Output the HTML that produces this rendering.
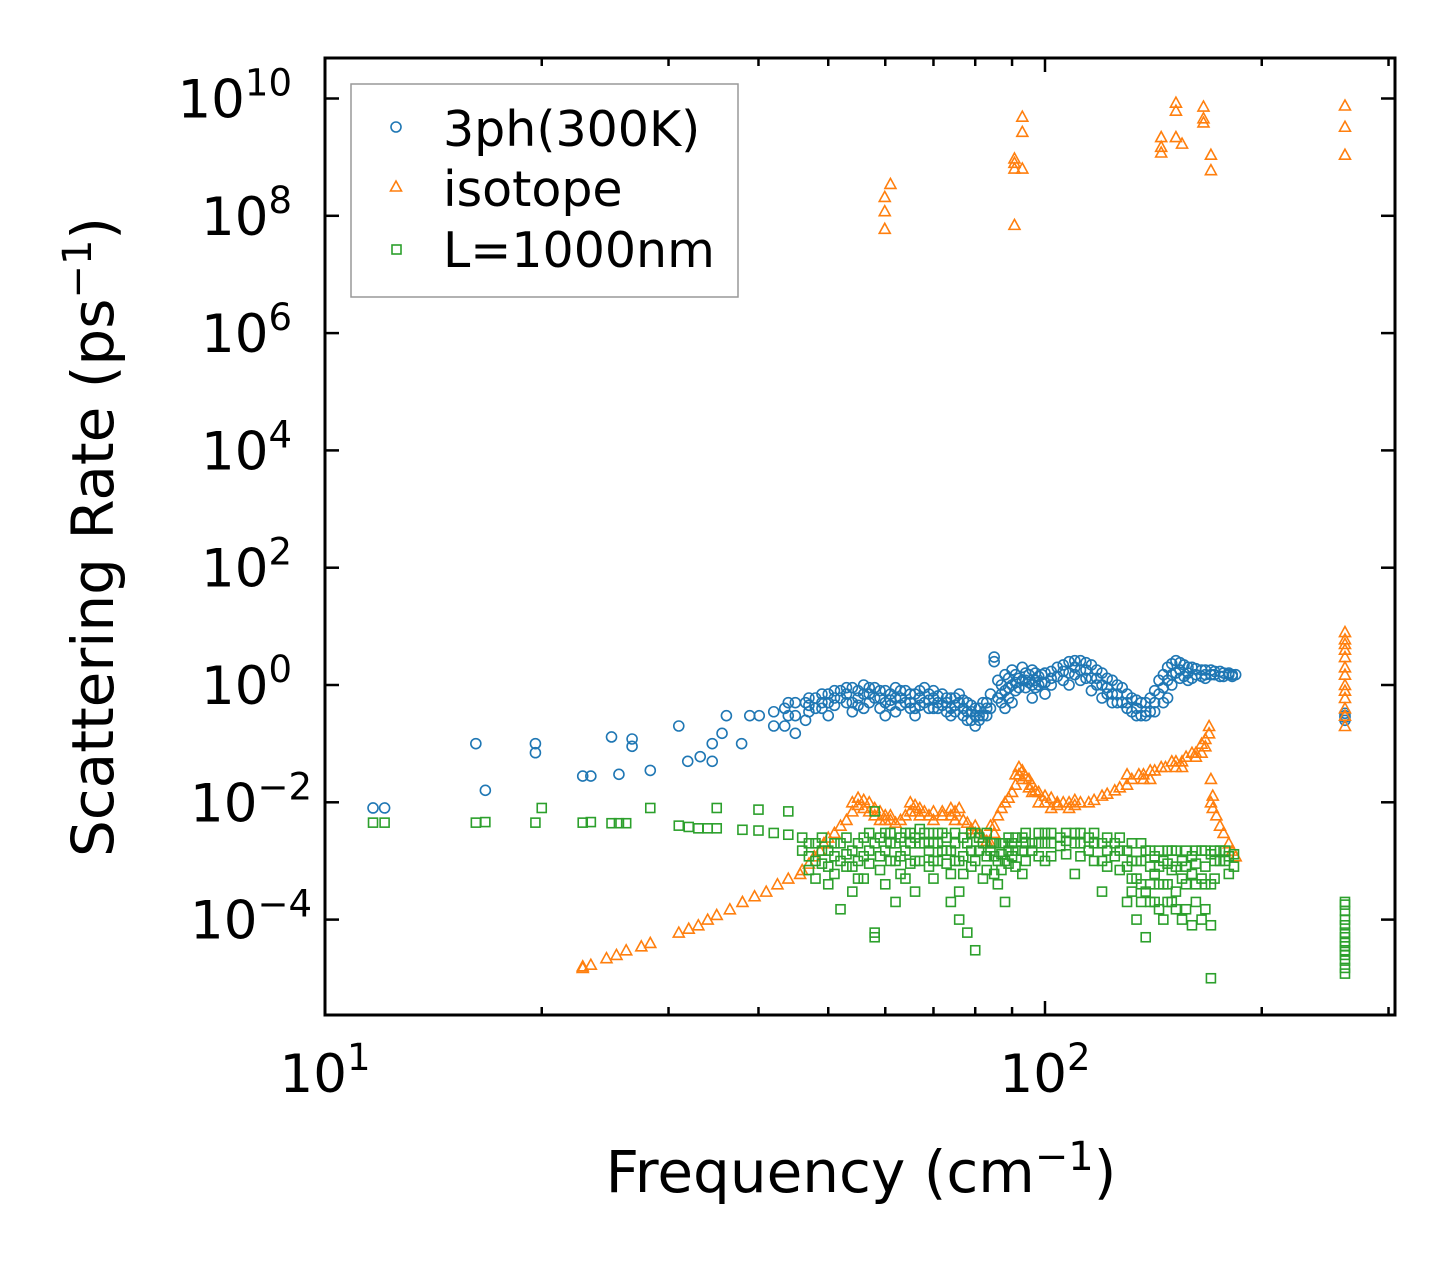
<!DOCTYPE html>
<html><head><meta charset="utf-8"><style>
body{margin:0;background:#fff}
svg{display:block;font-family:"DejaVu Sans","Liberation Sans",sans-serif}
</style></head><body>
<svg id="chart" width="1455" height="1265" viewBox="0 0 1455 1265" xmlns="http://www.w3.org/2000/svg">
<rect width="1455" height="1265" fill="#fff"/>
<g id="marks"></g>
<g id="axes"></g>
<g>
<rect x="351" y="84" width="387" height="213" fill="#fff" stroke="#999" stroke-width="1.5"/>
<circle cx="396" cy="127" r="5" fill="none" stroke="#1f77b4" stroke-width="1.6"/>
<text x="443" y="146" font-size="49">3ph(300K)</text>
<polygon points="396,181 401.5,191 390.5,191" fill="none" stroke="#ff7f0e" stroke-width="1.6"/>
<text x="443" y="206" font-size="49">isotope</text>
<rect x="392" y="245" width="9" height="9" fill="none" stroke="#2ca02c" stroke-width="1.6"/>
<text x="443" y="267" font-size="49">L=1000nm</text>
</g>
<text x="861" y="1192" font-size="58" text-anchor="middle">Frequency (cm<tspan dy="-22" font-size="40">−1</tspan><tspan dy="22">)</tspan></text>
<text transform="translate(113,537) rotate(-90)" font-size="58" text-anchor="middle">Scattering Rate (ps<tspan dy="-22" font-size="40">−1</tspan><tspan dy="22">)</tspan></text>
</svg>
<script>
const blueData=[[11.66,[0.008]],[12.1,[0.008]],[16.2,[0.1]],[16.7,[0.016]],[19.6,[0.1,0.07]],[22.8,[0.028]],[23.4,[0.028]],[25,[0.13]],[25.6,[0.03]],[26.7,[0.09,0.12]],[28.3,[0.035]],[31,[0.2]],[31.9,[0.05]],[33.2,[0.06]],[34.5,[0.1,0.05]],[35.6,[0.15]],[36.1,[0.3]],[37.9,[0.1]],[38.9,[0.3]],[40.1,[0.3]],
[42,[0.2,0.35]],[43.5,[0.4,0.2]],[45,[0.5,0.3,0.15]],[46.5,[0.5,0.25]],[48,[0.6,0.4]],[50,[0.7,0.5,0.3]],[52,[0.8,0.6]],[54,[0.9,0.5,0.35]],[56,[1.0,0.7,0.4]],[58,[0.9,0.6]],[60,[0.8,0.5,0.3]],[62,[0.9,0.6,0.35]],[64,[0.8,0.5]],[66,[0.7,0.4,0.3]],[68,[0.9,0.5]],[70,[0.8,0.6,0.4]],[72,[0.7,0.45]],[74,[0.6,0.4,0.3]],[76,[0.7,0.5]],[78,[0.5,0.35,0.25]],[80,[0.4,0.3,0.2]],[82,[0.5,0.3]],[84,[0.7,0.4]],[85,[3.0,2.5]],[86,[1.2,0.6]],[88,[1.5,0.8,0.4]],[90,[1.8,1.0,0.5]],[93,[2.0,1.2]],[96,[1.8,1.0,0.6]],[100,[1.6,1.1,0.7]],[104,[2.0,1.4]],[108,[2.5,1.6,1.0]],[112,[2.6,1.8,1.2]],[116,[2.2,1.3,0.8]],[120,[1.6,1.0,0.6]],[124,[1.2,0.7,0.5]],[128,[0.9,0.5]],[132,[0.6,0.35]],[136,[0.5,0.3]],[140,[0.6,0.35]],[144,[1.2,0.7]],[148,[2.0,1.2,0.6]],[152,[2.6,1.6]],[156,[2.2,1.4]],[160,[2.0,1.3]],[165,[1.8,1.4]],[170,[1.8,1.5]],[175,[1.7,1.4]],[180,[1.6,1.5]],[184,[1.5]],[261,[0.3,0.25,0.28,0.33]],
[44,[0.3,0.5]],[47,[0.35,0.6,0.45]],[49,[0.5,0.7,0.4]],[51,[0.6,0.8,0.45]],[53,[0.7,0.9,0.5]],[55,[0.8,0.6,0.45]],[57,[0.9,0.7,0.5]],[59,[0.8,0.6,0.4]],[61,[0.7,0.55,0.45]],[63,[0.8,0.6,0.45]],[65,[0.7,0.5,0.4]],[67,[0.8,0.6,0.45]],[69,[0.7,0.55,0.4]],[71,[0.65,0.5,0.4]],[73,[0.6,0.5,0.35]],[75,[0.6,0.45,0.35]],[77,[0.55,0.4,0.3]],[79,[0.45,0.35,0.25]],[81,[0.4,0.3,0.25]],[83,[0.5,0.4,0.3]],[87,[1.0,0.7,0.5]],[89,[1.3,0.9,0.6]],[91,[1.5,1.1,0.8]],[92,[1.3,0.9]],[94,[1.6,1.2,0.9]],[95,[1.5,1.1]],[97,[1.6,1.2,0.9]],[98,[1.4,1.0]],[99,[1.5,1.1]],[102,[1.7,1.3,1.0]],[106,[2.2,1.7,1.2]],[110,[2.6,2.0,1.5]],[114,[2.4,1.8,1.3]],[118,[1.8,1.3,1.0]],[122,[1.3,0.9,0.7]],[126,[1.0,0.7,0.5]],[130,[0.7,0.5,0.4]],[134,[0.55,0.4,0.3]],[138,[0.5,0.35,0.3]],[142,[0.8,0.5,0.35]],[146,[1.5,0.9,0.5]],[150,[2.3,1.5,1.0]],[154,[2.4,1.8,1.3]],[158,[2.0,1.6,1.2]],[162,[1.9,1.5]],[167,[1.8,1.5,1.3]],[172,[1.7,1.5]],[177,[1.6,1.4]],[182,[1.5,1.4]]];
const orangeData=[[59.9,[6e7,1.2e8,2.1e8]],[61,[3.5e8]],[90.7,[7e7,6.4e8,9.5e8,8e8]],[93,[4.9e9,2.7e9,6.4e8]],[145,[1.5e9,2.2e9,1.2e9]],[152,[8.5e9,6.2e9,2.2e9]],[155,[1.7e9]],[166,[7.3e9,4.6e9,3.9e9]],[170,[1.1e9,6e8]],[261,[7.6e9,3.3e9,1.1e9]],
[22.8,[1.5e-5,1.6e-5]],[23.4,[1.7e-5]],[24.6,[2.2e-5]],[25.4,[2.5e-5]],[26.2,[3e-5]],[27.5,[3.5e-5]],[28.3,[4e-5]],[31,[6e-5]],[32,[7e-5]],[33,[8e-5]],[34,[1e-4]],[35,[1.2e-4]],[36.5,[1.5e-4]],[38,[2e-4]],[39.5,[2.5e-4]],[41,[3e-4]],[42.5,[4e-4]],[44,[5e-4]],[45.7,[6e-4]],[47,[9e-4]],[48.7,[1.5e-3]],[50,[2.5e-3]],[52,[4e-3]],[54,[7e-3,1e-2]],[56,[1.1e-2,8e-3]],[58,[8e-3,6e-3]],[60,[6e-3,5e-3]],[63,[5e-3]],[65,[7e-3,1e-2]],[67,[8e-3,6e-3]],[70,[7e-3,5e-3]],[74,[8e-3,6e-3]],[77,[5e-3]],[80,[4e-3,3e-3]],[82,[2.5e-3]],[84,[2e-3,4e-3]],[86,[6e-3]],[88,[1e-2]],[90,[1.5e-2]],[92,[4e-2,3e-2]],[95,[2.5e-2,1.8e-2]],[98,[1.5e-2,1e-2]],[102,[1.2e-2,8e-3]],[106,[1e-2]],[110,[1.1e-2,9e-3]],[115,[1e-2]],[120,[1.3e-2]],[125,[1.6e-2]],[130,[2e-2,3e-2]],[135,[3e-2]],[140,[3.5e-2,2.5e-2]],[145,[4e-2]],[150,[5e-2]],[155,[5e-2,4e-2]],[160,[7e-2]],[165,[1e-1,7e-2]],[169,[1.5e-1,2e-1]],[171,[1.3e-2,8e-3]],[175,[4e-3]],[180,[2e-3]],[184,[1.2e-3]],[261,[8,5,3,2,1,0.6,0.3,0.2]],
[46,[7e-4]],[47.8,[1.2e-3]],[49.3,[2e-3]],[51,[3e-3]],[53,[5e-3]],[55,[9e-3,1.2e-2]],[57,[1e-2,7e-3]],[59,[7e-3,5e-3]],[61,[5e-3,6e-3]],[62,[4.5e-3]],[64,[6e-3]],[66,[9e-3,7e-3]],[68,[7e-3]],[69,[6e-3]],[72,[6e-3,7e-3]],[75,[7e-3,5e-3]],[76,[8e-3]],[78,[4.5e-3]],[79,[3.5e-3]],[81,[3e-3]],[83,[2.2e-3]],[85,[4e-3,3e-3]],[87,[8e-3]],[89,[1.2e-2]],[91,[2e-2,3e-2]],[93,[3.5e-2,2.5e-2]],[94,[2.8e-2]],[96,[2e-2,1.5e-2]],[97,[1.6e-2]],[100,[1.3e-2,1e-2]],[104,[1e-2,9e-3]],[108,[1e-2,8e-3]],[112,[1e-2]],[117,[1.1e-2]],[122,[1.4e-2]],[127,[1.8e-2]],[132,[2.5e-2]],[137,[3e-2,2.5e-2]],[142,[3.5e-2]],[147,[4e-2]],[152,[5e-2,4e-2]],[157,[6e-2]],[162,[7e-2,6e-2]],[167,[1.2e-1,9e-2]],[170,[2.5e-2,1e-2]],[173,[6e-3]],[177,[3e-3]],[182,[1.5e-3]],[261,[6,4,1.5,0.8,0.4]]];
const greenData=[[11.66,[4.5e-3]],[12.1,[4.5e-3]],[16.2,[4.5e-3]],[16.7,[4.6e-3]],[19.6,[4.5e-3]],[20,[8e-3]],[22.8,[4.5e-3]],[23.4,[4.6e-3]],[25,[4.4e-3]],[25.6,[4.4e-3]],[26.2,[4.4e-3]],[28.3,[8e-3]],[31,[4e-3]],[32,[3.8e-3]],[33,[3.6e-3]],[34,[3.6e-3]],[35,[8e-3,3.6e-3]],[38,[3.4e-3]],[40,[7.5e-3,3.3e-3]],[42,[3e-3]],[44,[7e-3,2.8e-3]],[46,[2.5e-3,1.5e-3]],[48,[2e-3,1e-3,5e-4]],[50,[1.5e-3,8e-4,4e-4]],[52,[1e-3,2e-3,1.5e-4]],[54,[8e-4,1.5e-3,3e-4]],[56,[1.2e-3,2.5e-3,5e-4]],[58,[2e-3,7e-3,5e-5,6e-5]],[60,[1.5e-3,3e-3,4e-4]],[62,[2e-3,1e-3,2e-4]],[64,[3e-3,1.5e-3,5e-4]],[66,[2.5e-3,1e-3,3e-4]],[68,[3e-3,2e-3]],[70,[2e-3,1e-3,5e-4]],[72,[3e-3,1.5e-3]],[74,[1.5e-3,6e-4,2e-4]],[76,[1e-3,3e-4,1e-4]],[78,[2e-3,6e-5]],[80,[3e-3,1e-3,3e-5]],[82,[2e-3,5e-4]],[84,[1.5e-3,2e-3]],[86,[1e-3,4e-4]],[88,[2e-3,1e-3,2e-4]],[90,[2e-3,1.2e-3]],[93,[2.5e-3,1.5e-3,6e-4]],[96,[2e-3,1.5e-3]],[100,[3e-3,2e-3,1e-3]],[105,[2.5e-3,1.8e-3]],[110,[3e-3,2e-3,6e-4]],[115,[2.5e-3,1.5e-3]],[120,[2e-3,1e-3,3e-4]],[125,[2e-3,1.2e-3]],[130,[1.5e-3,8e-4,2e-4]],[134,[1e-3,5e-4,1e-4]],[138,[1.5e-3,3e-4,5e-5]],[142,[1.2e-3,6e-4,2e-4]],[146,[1e-3,4e-4,1e-4]],[150,[1.5e-3,7e-4,2e-4]],[155,[1e-3,5e-4,1e-4]],[160,[1.2e-3,6e-4,8e-5]],[165,[1.5e-3,5e-4,1e-4]],[170,[1.3e-3,4e-4,1e-5,8e-5]],[175,[1.5e-3,1e-3]],[180,[1.2e-3,6e-4]],[261,[2e-4,1e-4,6e-5,4e-5,3e-5,2e-5,1.5e-5,1.2e-5]],
[47,[2e-3,1.2e-3,7e-4]],[49,[2.5e-3,1.5e-3,9e-4]],[51,[2e-3,1.2e-3,6e-4]],[53,[2.5e-3,1.3e-3,8e-4]],[55,[2e-3,1e-3,5e-4]],[57,[3e-3,1.5e-3,9e-4]],[59,[2.5e-3,1.2e-3,7e-4]],[61,[3e-3,2e-3,1e-3]],[63,[2.5e-3,1.2e-3,6e-4]],[65,[3e-3,2e-3,9e-4]],[67,[3.5e-3,2e-3,1e-3]],[69,[3e-3,1.5e-3,8e-4]],[71,[3e-3,2e-3,1e-3]],[73,[2.5e-3,1.5e-3,9e-4]],[75,[3e-3,2e-3,1e-3]],[77,[2.5e-3,1.2e-3,6e-4]],[79,[3e-3,1.5e-3,8e-4]],[81,[2.5e-3,1.5e-3]],[83,[3e-3,1.2e-3,7e-4]],[85,[2e-3,1.2e-3,6e-4]],[87,[2e-3,1.3e-3,7e-4]],[89,[2.5e-3,1.5e-3,9e-4]],[91,[2.5e-3,1.5e-3,8e-4]],[94,[3e-3,2e-3,1e-3]],[98,[3e-3,2e-3,1.2e-3]],[102,[3e-3,2e-3,1.2e-3]],[107,[3e-3,2.2e-3,1.3e-3]],[112,[3e-3,2e-3,1.2e-3]],[117,[3e-3,2e-3,1e-3]],[122,[2.5e-3,1.5e-3,8e-4]],[127,[2.5e-3,1.5e-3,7e-4]],[132,[2e-3,1e-3,5e-4,3e-4]],[136,[2e-3,1e-3,4e-4,2e-4]],[140,[1.5e-3,8e-4,4e-4,2e-4]],[144,[1.5e-3,8e-4,4e-4,1.5e-4]],[148,[1.5e-3,9e-4,4e-4,2e-4]],[152,[1.5e-3,8e-4,3e-4,1.5e-4]],[157,[1.5e-3,8e-4,4e-4,1.5e-4]],[162,[1.5e-3,9e-4,4e-4,2e-4]],[167,[1.5e-3,8e-4,4e-4,1.5e-4]],[172,[1.5e-3,1e-3,5e-4]],[178,[1.5e-3,1e-3]],[183,[1.3e-3,8e-4]],[261,[1.8e-4,1.4e-4,8e-5,5e-5,3.5e-5,2.5e-5]]];
const xMajorTicks=[10,100];
const xMinorTicks=[20,30,40,50,60,70,80,90,200,300];
const yMajorExps=[-4,-2,0,2,4,6,8,10];

const NS='http://www.w3.org/2000/svg';
const L=325,R=1395,T=58,B=1015;
function xs(f){return 325+720*Math.log10(f/10);}
function ys(v){return 685-58.65*Math.log10(v);}
function mk(tag,attrs,parent){const e=document.createElementNS(NS,tag);for(const k in attrs)e.setAttribute(k,attrs[k]);parent.appendChild(e);return e;}
const marks=document.getElementById('marks'),axes=document.getElementById('axes');
function plot(data,color,shape,name){
  const g=mk('g',{fill:'none',stroke:color,'stroke-width':1.6},marks);
  
  
  data.forEach(([f,vals])=>vals.forEach(v=>{
    const x=xs(f),y=ys(v);let e;
    if(shape==='c')e=mk('circle',{cx:x,cy:y,r:5},g);
    else if(shape==='t')e=mk('polygon',{points:`${x},${y-5.5} ${x+5.5},${y+4.5} ${x-5.5},${y+4.5}`},g);
    else e=mk('rect',{x:x-4.5,y:y-4.5,width:9,height:9},g);
    
    
  }));
}
plot(blueData,'#1f77b4','c','3ph');
plot(orangeData,'#ff7f0e','t','isotope');
plot(greenData,'#2ca02c','s','boundary');
const frame=mk('rect',{x:L,y:T,width:R-L,height:B-T,fill:'none',stroke:'#000','stroke-width':3},axes);


function tick(x1,y1,x2,y2,nm){const t=mk('line',{x1,y1,x2,y2,stroke:'#000','stroke-width':2.5},axes);}
xMajorTicks.forEach(f=>{const x=xs(f);tick(x,B,x,B-14,'x-major-tick');tick(x,T,x,T+14,'x-major-tick');
  const t=mk('text',{x:x,y:1092,'font-size':53,'text-anchor':'middle'},axes);
  
  
  t.innerHTML='10<tspan dy="-22" font-size="37">'+Math.round(Math.log10(f))+'</tspan>';});
xMinorTicks.forEach(f=>{const x=xs(f);tick(x,B,x,B-8,'x-minor-tick');tick(x,T,x,T+8,'x-minor-tick');});
yMajorExps.forEach(e=>{const y=ys(Math.pow(10,e));tick(L,y,L+14,y,'y-major-tick');tick(R,y,R-14,y,'y-major-tick');
  const t=mk('text',{x:e<0?312:292,y:y+19,'font-size':53,'text-anchor':'end'},axes);
  
  
  t.innerHTML='10<tspan dy="-22" font-size="37">'+(e<0?'−'+(-e):e)+'</tspan>';});
</script>
</body></html>
